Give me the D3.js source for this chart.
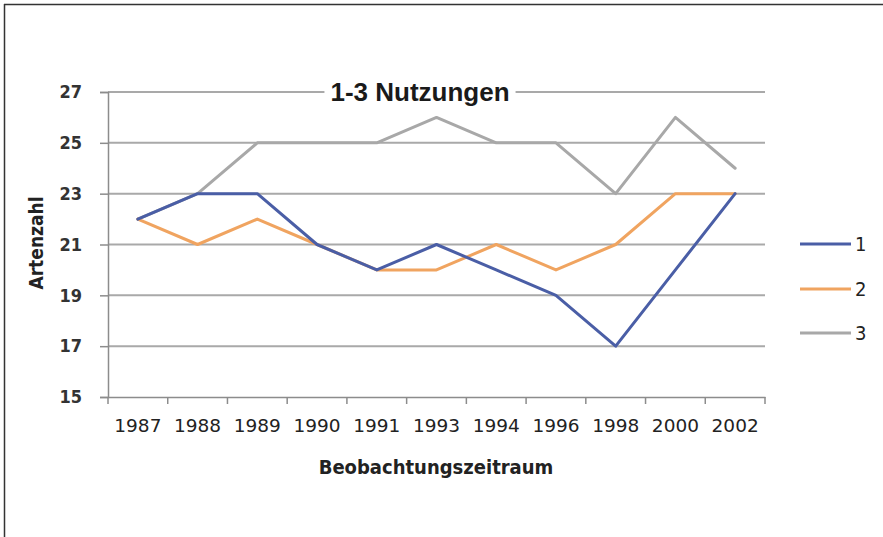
<!DOCTYPE html>
<html><head><meta charset="utf-8">
<script src="https://cdn.jsdelivr.net/npm/d3@7/dist/d3.min.js"></script>
<style>
html,body{margin:0;padding:0;background:#fff;}
svg{display:block;}
</style></head>
<body>
<svg id="chart" width="883" height="537"></svg>
<script>
const years = ["1987","1988","1989","1990","1991","1993","1994","1996","1998","2000","2002"];
const series1 = [22,23,23,21,20,21,20,19,17,20,23];
const series2 = [22,21,22,21,20,20,21,20,21,23,23];
const series3 = [22,23,25,25,25,26,25,25,23,26,24];
const seriesNames = ["1","2","3"];
const yTicks = [15,17,19,21,23,25,27];
const titleText = "1-3 Nutzungen";
const xTitle = "Beobachtungszeitraum";
const yTitle = "Artenzahl";

const colors = ["#4a5ea6","#f0a460","#a8a8a8"];
const svg = d3.select("#chart");

// frame
svg.append("line").attr("x1",4).attr("x2",883).attr("y1",4.5).attr("y2",4.5).attr("stroke","#333").attr("stroke-width",1.5);
svg.append("line").attr("x1",4.5).attr("x2",4.5).attr("y1",4).attr("y2",537).attr("stroke","#333").attr("stroke-width",1.5);

const pLeft=108, pRight=765, pTop=92, pBottom=397;
const x = d3.scaleBand().domain(years).range([pLeft,pRight]).padding(0);
const y = d3.scaleLinear().domain([15,27]).range([pBottom,pTop]);

// gridlines
svg.append("g").selectAll("line").data(yTicks.filter(d=>d>15)).join("line")
  .attr("x1",pLeft).attr("x2",pRight).attr("y1",d=>y(d)).attr("y2",d=>y(d))
  .attr("stroke","#a9a9a9").attr("stroke-width",2);

// y axis
const yAxis = d3.axisLeft(y).tickValues(yTicks).tickSize(8).tickPadding(18).tickFormat(d3.format("d"));
const gy = svg.append("g").attr("transform",`translate(${pLeft},0)`).call(yAxis);
gy.select(".domain").attr("stroke","#8c8c8c").attr("stroke-width",1.5);
gy.selectAll(".tick line").attr("stroke","#8c8c8c").attr("stroke-width",1.5);
gy.selectAll(".tick text").attr("font-family","'DejaVu Sans Condensed','DejaVu Sans',sans-serif")
  .attr("font-size",18).attr("font-weight","bold").attr("fill","#333");

// x axis
const xAxis = d3.axisBottom(x).tickSize(0).tickPadding(22);
const gx = svg.append("g").attr("transform",`translate(0,${pBottom})`).call(xAxis);
gx.select(".domain").attr("stroke","#8c8c8c").attr("stroke-width",1.5);
gx.selectAll(".tick text").attr("font-family","'DejaVu Sans',sans-serif")
  .attr("font-size",18.5).attr("fill","#222");
// ticks between categories
const bounds = years.map(d=>x(d)).concat([pRight]);
svg.append("g").selectAll("line").data(bounds).join("line")
  .attr("x1",d=>d).attr("x2",d=>d).attr("y1",pBottom).attr("y2",pBottom+7)
  .attr("stroke","#8c8c8c").attr("stroke-width",1.5);

// lines
const allSeries = [series1,series2,series3];
const line = d3.line().x((d,i)=>x(years[i])+x.bandwidth()/2).y(d=>y(d));
const drawOrder = [2,1,0];
drawOrder.forEach(k=>{
  svg.append("path").datum(allSeries[k]).attr("d",line)
    .attr("fill","none").attr("stroke",colors[k]).attr("stroke-width",3)
    .attr("stroke-linejoin","round").attr("stroke-linecap","round");
});

// title
const titleBg = svg.append("rect").attr("fill","#fff");
const tt = svg.append("text").attr("x",420).attr("y",101).attr("text-anchor","middle")
  .attr("font-family","'Liberation Sans',Arial,sans-serif").attr("font-weight","bold")
  .attr("font-size",26).attr("fill","#1a1a1a").text(titleText);
const bb = tt.node().getBBox();
titleBg.attr("x",bb.x-6).attr("y",bb.y+2).attr("width",bb.width+12).attr("height",bb.height-4);

// axis titles
svg.append("text").attr("x",436).attr("y",474).attr("text-anchor","middle")
  .attr("font-family","'DejaVu Sans Condensed','DejaVu Sans',sans-serif").attr("font-weight","bold")
  .attr("font-size",20).attr("fill","#222").text(xTitle);
svg.append("text").attr("transform","translate(43,243) rotate(-90)").attr("text-anchor","middle")
  .attr("font-family","'DejaVu Sans Condensed','DejaVu Sans',sans-serif").attr("font-weight","bold")
  .attr("font-size",19).attr("fill","#222").text(yTitle);

// legend
const legY = [244,289,333];
const lg = svg.append("g");
seriesNames.forEach((n,i)=>{
  lg.append("line").attr("x1",800).attr("x2",851).attr("y1",legY[i]).attr("y2",legY[i])
    .attr("stroke",colors[i]).attr("stroke-width",3);
  lg.append("text").attr("x",855).attr("y",legY[i]+7).attr("font-family","'DejaVu Sans Condensed','DejaVu Sans',sans-serif")
    .attr("font-size",20).attr("fill","#222").text(n);
});
</script>
</body></html>
